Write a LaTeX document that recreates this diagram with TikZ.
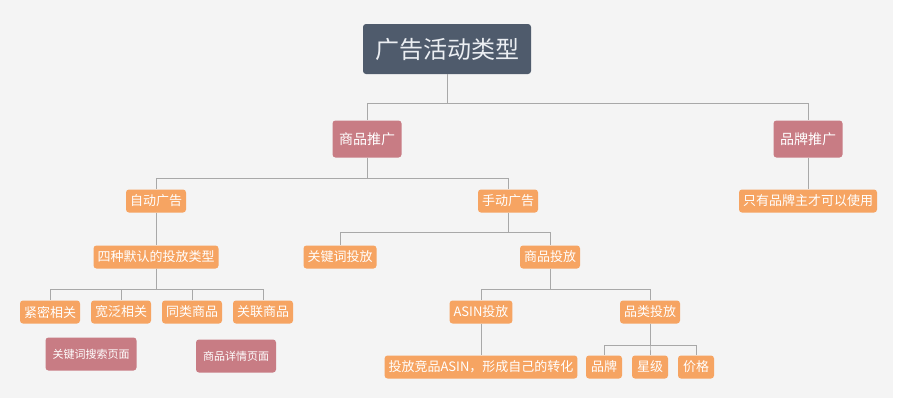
\documentclass[tikz,border=0pt]{standalone}
\usepackage{fontspec}
\setmainfont{Noto Sans CJK SC}
\usetikzlibrary{positioning, backgrounds, calc}
\definecolor{slate}{RGB}{79, 91, 108}
\definecolor{rose}{RGB}{200, 124, 132}
\definecolor{peach}{RGB}{246, 164, 98}
\definecolor{wire}{RGB}{168, 168, 168}
\definecolor{paper}{RGB}{244, 244, 244}

\tikzset{
    box/.style={rounded corners=3pt, text=white, inner xsep=4pt, inner ysep=0pt, minimum height=23pt},
    rootbox/.style={box, fill=slate, text={rgb,255:red,235;green,238;blue,242}, font=\fontsize{24}{24}\selectfont, minimum width=168pt, minimum height=50pt},
    rosebox/.style={box, fill=rose, font=\fontsize{14}{14}\selectfont, minimum width=69pt, minimum height=37pt},
    notebox/.style={box, fill=rose, font=\fontsize{11}{11}\selectfont, minimum height=33pt, inner xsep=7pt},
    leafbox/.style={box, fill=peach, font=\fontsize{13}{13}\selectfont},
    link/.style={draw=wire, line width=0.9pt}
}

\begin{document}
\begin{tikzpicture}[x=1pt, y=-1pt]

        % Page
        \useasboundingbox (0, 0) rectangle (900, 405);
        \fill[white] (0, 0) rectangle (900, 405);
        \fill[paper] (0, 0) rectangle (893, 398);

        % Top
        \node[rootbox] (root) at (447, 49) {广告活动类型};
        \node[rosebox] (prod) at (367, 139) {商品推广};
        \node[rosebox] (brand) at (808, 139) {品牌推广};
        \node[leafbox] (brandonly) at (808, 201) {只有品牌主才可以使用};

        \draw[link] (root.south) -- ++(0, 29) -| (prod.north);
        \draw[link] (root.south) -- ++(0, 29) -| (brand.north);
        \draw[link] (brand.south) -- (brandonly.north);

        % Auto
        \node[leafbox] (auto) at (156, 201) {自动广告};
        \node[leafbox] (fourtype) at (156, 257) {四种默认的投放类型};
        \node[leafbox] (close) at (50, 312) {紧密相关};
        \node[leafbox] (loose) at (121, 312) {宽泛相关};
        \node[leafbox] (subst) at (192, 312) {同类商品};
        \node[leafbox] (compl) at (263, 312) {关联商品};
        \node[notebox] (searchpage) at (91, 354) {关键词搜索页面};
        \node[notebox] (detailpage) at (236, 356) {商品详情页面};

        \draw[link] (prod.south) -- ++(0, 21) -| (auto.north);
        \draw[link] (auto.south) -- (fourtype.north);
        \foreach \k in {close, loose, subst, compl}
            \draw[link] (fourtype.south) -- ++(0, 21) -| (\k.north);

        % Manual
        \node[leafbox] (manual) at (508, 201) {手动广告};
        \node[leafbox] (keyword) at (340, 257) {关键词投放};
        \node[leafbox] (product) at (550, 257) {商品投放};
        \node[leafbox] (asin) at (481, 312) {ASIN投放};
        \node[leafbox] (category) at (650, 312) {品类投放};
        \node[leafbox] (rival) at (481, 367) {投放竞品ASIN，形成自己的转化};
        \node[leafbox, minimum width=36pt] (mark) at (604, 367) {品牌};
        \node[leafbox, minimum width=36pt] (stars) at (650, 367) {星级};
        \node[leafbox, minimum width=36pt] (price) at (696, 367) {价格};

        \draw[link] (prod.south) -- ++(0, 21) -| (manual.north);
        \draw[link] (manual.south) -- ++(0, 20) -| (keyword.north);
        \draw[link] (manual.south) -- ++(0, 20) -| (product.north);
        \draw[link] (product.south) -- ++(0, 21) -| (asin.north);
        \draw[link] (product.south) -- ++(0, 21) -| (category.north);
        \draw[link] (asin.south) -- (rival.north);
        \foreach \k in {mark, stars, price}
            \draw[link] (category.south) -- ++(0, 22) -| (\k.north);

\end{tikzpicture}
\end{document}
